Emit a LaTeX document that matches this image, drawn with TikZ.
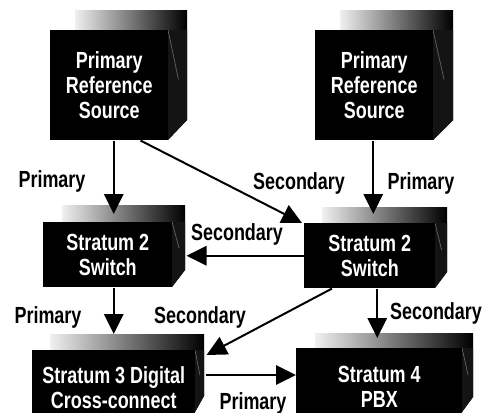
\documentclass[tikz,border=0pt]{standalone}
\usepackage{fontspec}
\newfontfamily\narrowbold{Liberation Sans}[FakeStretch=0.77]
\usetikzlibrary{arrows.meta,calc}

\tikzset{
  boxfront/.style={rectangle, fill=black, text=white, inner sep=0pt,
    anchor=north west, align=center,
    font=\narrowbold\bfseries\fontsize{17.5}{19}\selectfont},
  lbl/.style={inner sep=0pt, text=black,
    font=\narrowbold\bfseries\fontsize{17.5}{19}\selectfont},
  conn/.style={line width=1.5pt, -{Triangle[length=15pt,width=14.5pt]}},
  sidecut/.style={draw=black!60, line width=0.5pt}
}

% Shaded extrusion behind a box: left, top, right, bottom, dx, rise, shade start
\newcommand\boxslab[7]{%
  \shade[left color=black!6, right color=black]
    (#7,#2-#6) -- (#3+#5,#2-#6) -- (#3+#5,#4-#6) -- (#3,#4) -- (#3,#2) -- (#7,#2) -- cycle;
  \fill[black!92] (#3,#2) -- (#3+#5,#2) -- (#3+#5,#4-#6) -- (#3,#4) -- cycle;
  \draw[sidecut] (#3,#2) -- ($(#3,#2)!0.55!(#3+#5,#4-#6)$);
}

\begin{document}
\begin{tikzpicture}[x=0.75pt, y=-0.75pt]
  \useasboundingbox (0,0) rectangle (499,412);

  % extruded shading
  \boxslab{50}{30}{168}{140}{19}{20}{75}
  \boxslab{315}{30}{433}{140}{20}{20}{340}
  \boxslab{43}{222}{172}{287}{13}{17}{62}
  \boxslab{304}{223}{435}{288}{12}{16}{322}
  \boxslab{32}{350}{195}{412}{9}{16}{50}
  \boxslab{296}{348}{462}{412}{11}{15}{315}

  % box faces
  \node[boxfront, minimum width={118*0.75pt}, minimum height={110*0.75pt}] (prsA) at (50,30) {Primary\\Reference\\Source};
  \node[boxfront, minimum width={118*0.75pt}, minimum height={110*0.75pt}] (prsB) at (315,30) {Primary\\Reference\\Source};
  \node[boxfront, minimum width={129*0.75pt}, minimum height={65*0.75pt}] (swA) at (43,222) {Stratum 2\\Switch};
  \node[boxfront, minimum width={131*0.75pt}, minimum height={65*0.75pt}] (swB) at (304,223) {Stratum 2\\Switch};
  \node[boxfront, minimum width={163*0.75pt}, minimum height={75*0.75pt}] (dcc) at (32,350) {Stratum 3 Digital\\Cross-connect};
  \node[boxfront, minimum width={166*0.75pt}, minimum height={77*0.75pt}] (pbx) at (296,348) {Stratum 4\\PBX};

  % timing links
  \draw[conn] (prsA.south -| dcc.north) -- ($(swA.north -| dcc.north)+(0,-8)$);
  \draw[conn] ($(prsA.south east)+(-28,0)$) -- ($(swB.north west)+(-2,0)$);
  \draw[conn] ($(prsB.south)+(-1,0)$) -- ($(swB.north -| prsB.south)+(-1,-9)$);
  \draw[conn] (swB.west) -- ($(swA.east |- swB.west)+(14,0)$);
  \draw[conn] (swA.south -| dcc.north) -- ($(dcc.north)+(0,-16)$);
  \draw[conn] ($(swB.south west)+(28,0)$) -- ($(dcc.north east)+(11,5)$);
  \draw[conn] ($(swB.south -| pbx.north)+(-2,0)$) -- ($(pbx.north)+(-2,-10)$);
  \draw[conn] ($(dcc.north east)+(10,25)$) -- ($(pbx.north west)+(0,27)$);

  % link labels
  \node[lbl] (l1) at (52,181) {Primary};
  \node[lbl] (l2) at (299,183) {Secondary};
  \node[lbl] (l3) at (421,183) {Primary};
  \node[lbl] (l4) at (237,234) {Secondary};
  \node[lbl] (l5) at (48,317) {Primary};
  \node[lbl] (l6) at (200,317) {Secondary};
  \node[lbl] (l7) at (436,313) {Secondary};
  \node[lbl] (l8) at (253,403) {Primary};
\end{tikzpicture}
\end{document}
